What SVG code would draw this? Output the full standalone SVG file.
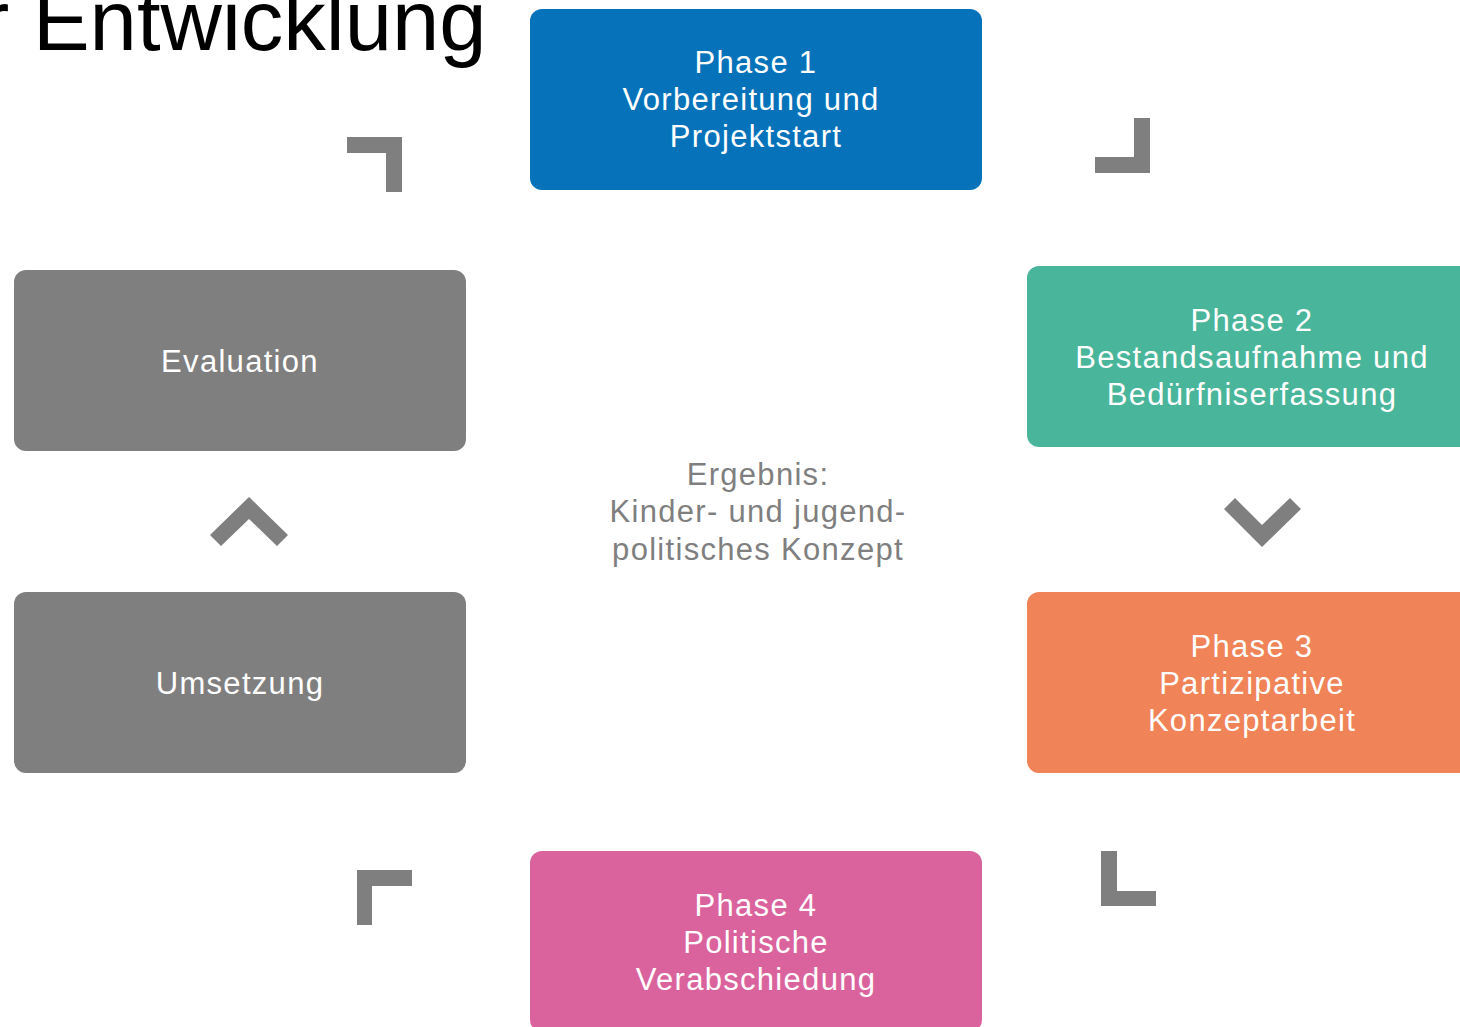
<svg xmlns="http://www.w3.org/2000/svg" width="1460" height="1027" viewBox="0 0 1460 1027">
<style>
.box text{font-family:"Liberation Sans",Arial,sans-serif;font-size:31px;letter-spacing:1.3px;fill:#ffffff;text-anchor:middle}
.c{fill:#7f7f7f}
.title{font-family:"Liberation Sans",Arial,sans-serif;font-size:85px;fill:#000000}
.center{font-family:"Liberation Sans",Arial,sans-serif;font-size:31px;letter-spacing:1.3px;fill:#7f7f7f;text-anchor:middle}
</style>
<rect width="1460" height="1027" fill="#ffffff"/>
<text class="title" x="-19" y="50">r Entwicklung</text>
<g id="phase1" class="box">
<rect x="530" y="9" width="452" height="181" rx="12" fill="#0572ba"/>
<text x="756" y="73">Phase 1</text>
<text x="751" y="110">Vorbereitung und</text>
<text x="756" y="147">Projektstart</text>
</g>
<g id="phase2" class="box">
<rect x="1027" y="266" width="452" height="181" rx="12" fill="#49b59a"/>
<text x="1252" y="331">Phase 2</text>
<text x="1252" y="368">Bestandsaufnahme und</text>
<text x="1252" y="405">Bedürfniserfassung</text>
</g>
<g id="phase3" class="box">
<rect x="1027" y="592" width="452" height="181" rx="12" fill="#f08357"/>
<text x="1252" y="657">Phase 3</text>
<text x="1252" y="694">Partizipative</text>
<text x="1252" y="731">Konzeptarbeit</text>
</g>
<g id="phase4" class="box">
<rect x="530" y="851" width="452" height="181" rx="12" fill="#da639e"/>
<text x="756" y="916">Phase 4</text>
<text x="756" y="953">Politische</text>
<text x="756" y="990">Verabschiedung</text>
</g>
<g id="umsetzung" class="box">
<rect x="14" y="592" width="452" height="181" rx="12" fill="#7f7f7f"/>
<text x="240" y="694">Umsetzung</text>
</g>
<g id="evaluation" class="box">
<rect x="14" y="270" width="452" height="181" rx="12" fill="#7f7f7f"/>
<text x="240" y="372">Evaluation</text>
</g>
<g id="ergebnis">
<text class="center" x="758" y="485">Ergebnis:</text>
<text class="center" x="758" y="522">Kinder- und jugend-</text>
<text class="center" x="758" y="560">politisches Konzept</text>
</g>
<g id="connectors">
<polygon class="c" points="347,137 402,137 402,192 386,192 386,153 347,153"/>
<polygon class="c" points="1134,118 1150,118 1150,173 1095,173 1095,157 1134,157"/>
<polygon class="c" points="1224,509 1235,498 1262,525 1290,498 1301,509 1262,547"/>
<polygon class="c" points="1101,851 1117,851 1117,891 1156,891 1156,906 1101,906"/>
<polygon class="c" points="357,870 412,870 412,886 372,886 372,925 357,925"/>
<polygon class="c" points="210,535 249,497 288,535 277,546 249,519 221,546"/>
</g>
</svg>
